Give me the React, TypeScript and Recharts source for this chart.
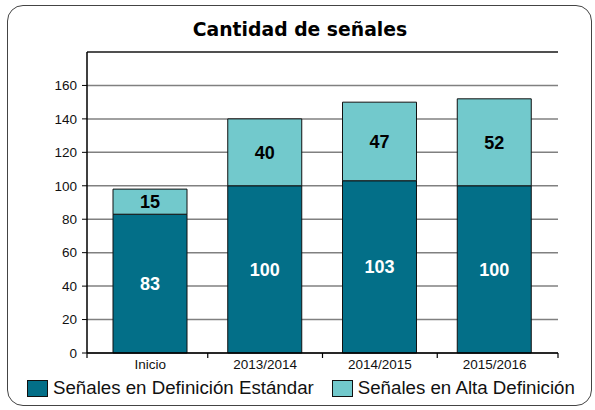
import React from 'react';
import { BarChart, Bar, XAxis, YAxis, CartesianGrid, ReferenceLine, LabelList } from 'recharts';

const categories = ['Inicio', '2013/2014', '2014/2015', '2015/2016'];
const standardDef = [83, 100, 103, 100];
const highDef = [15, 40, 47, 52];
const yTicks = [0, 20, 40, 60, 80, 100, 120, 140, 160];
const seriesNames = ['Señales en Definición Estándar', 'Señales en Alta Definición'];

const DARK = '#036f88';
const LIGHT = '#72c9cc';
const X_PAD = 6;

const chartData = categories.map((name, i) => ({
  name,
  sd: standardDef[i],
  hd: highDef[i],
}));

const XTick = (props: any) => {
  const { x, y, payload, index, visibleTicksCount } = props;
  const off = payload?.offset ?? 0;
  const last = index === (visibleTicksCount ?? categories.length) - 1;
  const rightX = last ? x + off + X_PAD : x + off;
  return (
    <g>
      {index === 0 && (
        <line x1={x - off - X_PAD} x2={x - off - X_PAD} y1={y - 5} y2={y} stroke="#000" strokeWidth={1.2} />
      )}
      <line x1={rightX} x2={rightX} y1={y - 5} y2={y} stroke="#000" strokeWidth={1.2} />
      <text x={x} y={y} dy={11} textAnchor="middle" fontSize={13.5} fill="#111" fontFamily="'Liberation Sans', Arial, sans-serif">
        {payload.value}
      </text>
    </g>
  );
};

export default function App() {
  return (
    <div style={{ position: 'absolute', left: 0, top: 0, width: 595, height: 410, background: '#fff' }}>
      <div
        style={{
          position: 'absolute',
          left: 7,
          top: 5,
          width: 583,
          height: 399,
          border: '1.5px solid #444',
          borderRadius: 16,
        }}
      />
      <div
        style={{
          position: 'absolute',
          left: 0,
          top: 19,
          width: 600,
          textAlign: 'center',
          fontFamily: "'DejaVu Sans', Verdana, sans-serif",
          fontWeight: 'bold',
          fontSize: 18.8,
          color: '#000',
        }}
      >
        Cantidad de señales
      </div>
      <div style={{ position: 'absolute', left: 0, top: 0 }}>
        <BarChart width={595} height={410} data={chartData} margin={{ top: 52, right: 37, bottom: 27, left: 27 }}>
          <CartesianGrid vertical={false} stroke="#808080" strokeWidth={1.5} />
          <XAxis
            dataKey="name"
            height={30}
            tickLine={false}
            tickSize={5}
            tickMargin={0}
            padding={{ left: X_PAD, right: X_PAD }}
            axisLine={{ stroke: '#000', strokeWidth: 1.5 }}
            tick={<XTick />}
            interval={0}
          />
          <YAxis
            width={60}
            domain={[0, 180]}
            ticks={yTicks}
            tickSize={5}
            tickMargin={5}
            axisLine={{ stroke: '#000', strokeWidth: 1.5 }}
            tickLine={{ stroke: '#000' }}
            tick={{ fontSize: 13.5, fill: '#111', fontFamily: "'Liberation Sans', Arial, sans-serif" }}
          />
          <YAxis
            yAxisId="right"
            orientation="right"
            width={0}
            tick={false}
            tickLine={false}
            axisLine={{ stroke: '#000', strokeWidth: 1 }}
          />
          <ReferenceLine y={180} stroke="#000" strokeWidth={1} />
          <Bar dataKey="sd" stackId="a" fill={DARK} stroke="#111" strokeWidth={1} barSize={74} isAnimationActive={false}>
            <LabelList
              dataKey="sd"
              position="center"
              fill="#fff"
              fontSize={18}
              fontWeight="bold"
              fontFamily="'Liberation Sans', Arial, sans-serif"
            />
          </Bar>
          <Bar dataKey="hd" stackId="a" fill={LIGHT} stroke="#111" strokeWidth={1} barSize={74} isAnimationActive={false}>
            <LabelList
              dataKey="hd"
              position="center"
              fill="#000"
              fontSize={18}
              fontWeight="bold"
              fontFamily="'Liberation Sans', Arial, sans-serif"
            />
          </Bar>
        </BarChart>
      </div>
      <div
        style={{
          position: 'absolute',
          left: 27,
          top: 377,
          display: 'flex',
          alignItems: 'center',
          fontFamily: "'Liberation Sans', Arial, sans-serif",
          fontSize: 18.7,
          color: '#111',
          whiteSpace: 'nowrap',
        }}
      >
        {seriesNames.map((n, i) => (
          <div key={n} style={{ display: 'flex', alignItems: 'center', marginRight: i === 0 ? 18 : 0 }}>
            <span
              style={{
                display: 'inline-block',
                width: 19,
                height: 15,
                background: i === 0 ? DARK : LIGHT,
                border: '1px solid #111',
                marginRight: 5,
              }}
            />
            <span>{n}</span>
          </div>
        ))}
      </div>
    </div>
  );
}
